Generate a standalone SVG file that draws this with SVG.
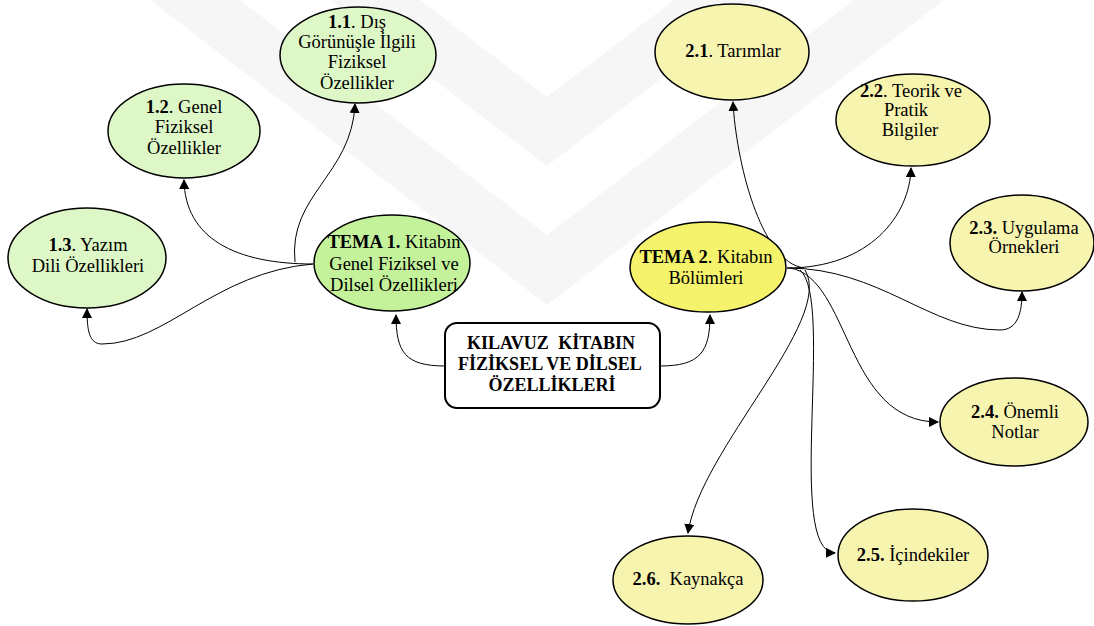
<svg xmlns="http://www.w3.org/2000/svg" width="1094" height="626" viewBox="0 0 1094 626">
<defs>
<style>
text{font-family:"Liberation Serif","Times New Roman",serif;font-size:18.5px;fill:#000;text-anchor:middle}
.b{font-weight:bold}
.h{font-weight:bold;font-size:18px}
.g{fill:#def7c7;stroke:#000;stroke-width:1.5}
.g1{fill:#c4f29b;stroke:#000;stroke-width:1.5}
.y{fill:#f7f4b0;stroke:#000;stroke-width:1.5}
.y1{fill:#f5f36b;stroke:#000;stroke-width:1.5}
.c{fill:none;stroke:#000;stroke-width:1}
.wm{fill:#f6f6f6}
</style>
<marker id="a" viewBox="0 0 10 10" refX="9" refY="5" markerWidth="10" markerHeight="10" markerUnits="userSpaceOnUse" orient="auto">
<path d="M0,0 L10,5 L0,10 z" fill="#000"/>
</marker>
</defs>
<rect width="1094" height="626" fill="#fff"/>
<g id="watermark">
<polygon class="wm" points="150,0 240,0 547,235 854,0 944,0 547,305"/>
<polygon class="wm" points="330,0 420,0 547,97 674,0 764,0 547,166"/>
</g>
<g id="connectors">
<path class="c" d="M445,366 C405,366 396,352 396,315" marker-end="url(#a)"/>
<path class="c" d="M660,366 C700,366 710,352 710,315" marker-end="url(#a)"/>
<path class="c" d="M313,264 C215,272 165,344 102,344 C89,344 87,330 87,309" marker-end="url(#a)"/>
<path class="c" d="M313,264 C235,264 185,238 184,180" marker-end="url(#a)"/>
<path class="c" d="M295,262 C288,195 352,175 355,104" marker-end="url(#a)"/>
<path class="c" d="M804,268 C760,262 736,160 733,102" marker-end="url(#a)"/>
<path class="c" d="M787,268 C870,268 910,215 911,168" marker-end="url(#a)"/>
<path class="c" d="M787,268 C880,268 930,330 1000,330 C1018,330 1022,312 1022,292" marker-end="url(#a)"/>
<path class="c" d="M790,268 C850,278 845,422 938,422" marker-end="url(#a)"/>
<path class="c" d="M800,270 C835,300 785,552 835,553" marker-end="url(#a)"/>
<path class="c" d="M805,270 C835,320 700,450 688,533" marker-end="url(#a)"/>
</g>
<g id="center">
<rect x="445" y="323" width="215" height="85" rx="12" fill="#fff" stroke="#000" stroke-width="2"/>
<text class="h" x="551" y="349" word-spacing="5">KILAVUZ KİTABIN</text>
<text class="h" x="550" y="370">FİZİKSEL VE DİLSEL</text>
<text class="h" x="552" y="391">ÖZELLİKLERİ</text>
</g>
<g id="tema1">
<ellipse class="g1" cx="392" cy="263" rx="78" ry="48"/>
<text x="394" y="248"><tspan class="b">TEMA 1.</tspan> Kitabın</text>
<text x="394" y="270">Genel Fiziksel ve</text>
<text x="394" y="291">Dilsel Özellikleri</text>
</g>
<g id="n11">
<ellipse class="g" cx="358" cy="55" rx="78" ry="48"/>
<text x="357" y="28"><tspan class="b">1.1</tspan>. Dış</text>
<text x="357" y="48">Görünüşle İlgili</text>
<text x="357" y="68">Fiziksel</text>
<text x="357" y="89">Özellikler</text>
</g>
<g id="n12">
<ellipse class="g" cx="184" cy="131" rx="76" ry="47"/>
<text x="184" y="113"><tspan class="b">1.2</tspan>. Genel</text>
<text x="184" y="133">Fiziksel</text>
<text x="184" y="154">Özellikler</text>
</g>
<g id="n13">
<ellipse class="g" cx="87" cy="258" rx="79" ry="50"/>
<text x="88" y="251"><tspan class="b">1.3</tspan>. Yazım</text>
<text x="88" y="272">Dili Özellikleri</text>
</g>
<g id="tema2">
<ellipse class="y1" cx="708" cy="267" rx="78" ry="45"/>
<text x="706" y="263"><tspan class="b">TEMA 2</tspan>. Kitabın</text>
<text x="706" y="284">Bölümleri</text>
</g>
<g id="n21">
<ellipse class="y" cx="732" cy="52" rx="77" ry="48"/>
<text x="733" y="57"><tspan class="b">2.1</tspan>. Tarımlar</text>
</g>
<g id="n22">
<ellipse class="y" cx="913" cy="120" rx="77" ry="46"/>
<text x="911" y="97"><tspan class="b">2.2</tspan>. Teorik ve</text>
<text x="906" y="116">Pratik</text>
<text x="910" y="136">Bilgiler</text>
</g>
<g id="n23">
<ellipse class="y" cx="1022" cy="243" rx="72" ry="48"/>
<text x="1024" y="234"><tspan class="b">2.3.</tspan> Uygulama</text>
<text x="1024" y="253">Örnekleri</text>
</g>
<g id="n24">
<ellipse class="y" cx="1014" cy="422" rx="74" ry="44"/>
<text x="1015" y="418"><tspan class="b">2.4.</tspan> Önemli</text>
<text x="1015" y="438">Notlar</text>
</g>
<g id="n25">
<ellipse class="y" cx="913" cy="555" rx="75" ry="46"/>
<text x="913" y="561"><tspan class="b">2.5.</tspan> İçindekiler</text>
</g>
<g id="n26">
<ellipse class="y" cx="688" cy="580" rx="75" ry="44"/>
<text x="688" y="585" xml:space="preserve"><tspan class="b">2.6.</tspan>  Kaynakça</text>
</g>
</svg>
